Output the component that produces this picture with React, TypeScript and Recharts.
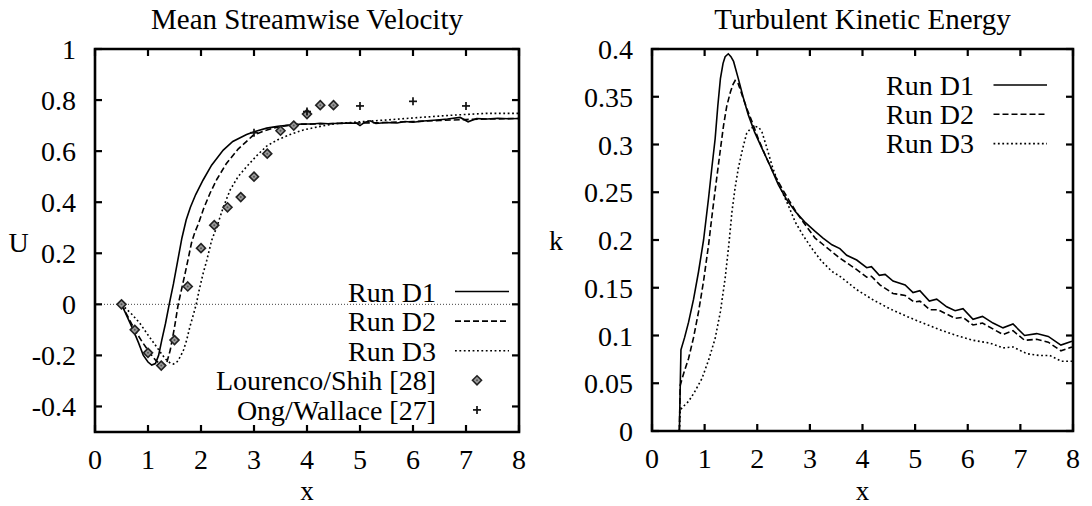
import React from 'react';
import {
  ComposedChart,
  Line,
  Scatter,
  XAxis,
  YAxis,
  ReferenceArea,
  ReferenceLine,
} from 'recharts';

const FONT = 'Liberation Serif, Times New Roman, serif';

// ---- axis ticks ----
const xTicks = [0, 1, 2, 3, 4, 5, 6, 7, 8];
const uTicks = [-0.4, -0.2, 0, 0.2, 0.4, 0.6, 0.8, 1];
const kTicks = [0, 0.05, 0.1, 0.15, 0.2, 0.25, 0.3, 0.35, 0.4];

// ---- Mean streamwise velocity ----
const uD1X = [0.5, 0.6, 0.72, 0.82, 0.91, 1.0, 1.07, 1.14, 1.2, 1.26, 1.33, 1.4, 1.48, 1.56, 1.64, 1.72, 1.8, 1.9, 2.04, 2.2, 2.42, 2.6, 2.86, 3.05, 3.24, 3.45, 3.68, 3.9, 4.1, 4.25, 4.4, 4.62, 4.8, 4.94, 5.0, 5.08, 5.19, 5.3, 5.5, 5.7, 5.85, 6.0, 6.2, 6.45, 6.65, 6.89, 7.04, 7.2, 7.4, 7.6, 7.8, 8.0];
const uD1 = [0, -0.045, -0.1, -0.15, -0.199, -0.226, -0.238, -0.232, -0.2, -0.14, -0.075, 0, 0.08, 0.17, 0.26, 0.33, 0.38, 0.43, 0.487, 0.545, 0.604, 0.638, 0.665, 0.679, 0.69, 0.697, 0.702, 0.706, 0.706, 0.709, 0.707, 0.709, 0.71, 0.709, 0.7, 0.712, 0.719, 0.708, 0.712, 0.71, 0.716, 0.713, 0.718, 0.722, 0.726, 0.732, 0.715, 0.728, 0.726, 0.729, 0.727, 0.728];

const uD2X = [0.5, 0.6, 0.7, 0.79, 0.9, 1.04, 1.14, 1.23, 1.29, 1.35, 1.42, 1.5, 1.57, 1.64, 1.7, 1.76, 1.82, 1.88, 1.95, 2.05, 2.17, 2.3, 2.48, 2.7, 2.99, 3.2, 3.37, 3.6, 3.8, 4.1, 4.5, 5.0, 5.5, 6.0, 6.5, 7.0, 7.5, 8.0];
const uD2 = [0, -0.04, -0.08, -0.114, -0.15, -0.192, -0.218, -0.234, -0.242, -0.232, -0.179, -0.09, 0, 0.065, 0.121, 0.18, 0.24, 0.28, 0.315, 0.375, 0.435, 0.49, 0.552, 0.608, 0.663, 0.68, 0.69, 0.7, 0.705, 0.706, 0.708, 0.71, 0.712, 0.716, 0.72, 0.724, 0.726, 0.728];

const uD3X = [0.5, 0.6, 0.7, 0.85, 1.0, 1.16, 1.27, 1.35, 1.42, 1.48, 1.55, 1.61, 1.67, 1.73, 1.79, 1.85, 1.91, 1.97, 2.04, 2.11, 2.2, 2.3, 2.42, 2.55, 2.7, 2.86, 3.05, 3.24, 3.45, 3.68, 3.93, 4.25, 4.56, 5.0, 5.5, 6.13, 6.76, 7.39, 8.0];
const uD3 = [0, -0.02, -0.04, -0.075, -0.12, -0.166, -0.198, -0.218, -0.23, -0.234, -0.225, -0.205, -0.179, -0.14, -0.088, -0.045, 0, 0.06, 0.121, 0.173, 0.25, 0.304, 0.38, 0.448, 0.5, 0.539, 0.582, 0.62, 0.645, 0.665, 0.683, 0.697, 0.708, 0.715, 0.722, 0.732, 0.741, 0.748, 0.748];

const lsX = [0.5, 0.75, 1.0, 1.25, 1.5, 1.75, 2.0, 2.25, 2.5, 2.75, 3.0, 3.25, 3.5, 3.75, 4.0, 4.25, 4.5];
const lsU = [0, -0.1, -0.19, -0.24, -0.14, 0.07, 0.22, 0.31, 0.38, 0.42, 0.5, 0.59, 0.68, 0.7, 0.745, 0.78, 0.78];

const owX = [3, 4, 5, 6, 7];
const owU = [0.672, 0.755, 0.777, 0.795, 0.777];

// ---- Turbulent kinetic energy ----
const kD1X = [0.52, 0.55, 0.62, 0.695, 0.79, 0.885, 0.98, 1.075, 1.14, 1.2, 1.25, 1.3, 1.35, 1.39, 1.45, 1.5, 1.55, 1.64, 1.73, 1.83, 1.95, 2.09, 2.25, 2.4, 2.55, 2.72, 2.9, 3.1, 3.25, 3.42, 3.57, 3.7, 3.89, 4.08, 4.17, 4.32, 4.43, 4.58, 4.81, 4.96, 5.09, 5.27, 5.41, 5.6, 5.76, 5.91, 6.1, 6.28, 6.48, 6.67, 6.86, 7.08, 7.31, 7.53, 7.77, 7.98];
const kD1 = [0, 0.085, 0.098, 0.114, 0.138, 0.167, 0.2, 0.244, 0.277, 0.306, 0.34, 0.369, 0.385, 0.392, 0.395, 0.392, 0.387, 0.369, 0.35, 0.331, 0.313, 0.296, 0.277, 0.258, 0.243, 0.23, 0.219, 0.209, 0.202, 0.195, 0.191, 0.184, 0.179, 0.171, 0.172, 0.163, 0.164, 0.157, 0.153, 0.145, 0.147, 0.136, 0.138, 0.13, 0.126, 0.128, 0.117, 0.12, 0.113, 0.108, 0.112, 0.1, 0.102, 0.099, 0.09, 0.094];

const kD2X = [0.52, 0.537, 0.6, 0.695, 0.79, 0.885, 0.98, 1.075, 1.15, 1.23, 1.3, 1.36, 1.42, 1.49, 1.54, 1.58, 1.63, 1.71, 1.8, 1.9, 2.02, 2.15, 2.3, 2.47, 2.62, 2.78, 2.95, 3.1, 3.3, 3.57, 3.89, 4.08, 4.17, 4.33, 4.58, 4.81, 4.98, 5.09, 5.28, 5.43, 5.76, 5.91, 6.1, 6.28, 6.67, 6.86, 7.08, 7.31, 7.53, 7.77, 7.98];
const kD2 = [0, 0.048, 0.06, 0.076, 0.098, 0.125, 0.157, 0.195, 0.23, 0.265, 0.295, 0.32, 0.34, 0.355, 0.363, 0.367, 0.365, 0.352, 0.338, 0.324, 0.306, 0.289, 0.271, 0.254, 0.24, 0.226, 0.213, 0.202, 0.193, 0.181, 0.169, 0.161, 0.162, 0.153, 0.144, 0.142, 0.135, 0.136, 0.127, 0.127, 0.118, 0.119, 0.111, 0.113, 0.101, 0.105, 0.095, 0.096, 0.093, 0.084, 0.088];

const kD3X = [0.52, 0.537, 0.6, 0.695, 0.8, 0.95, 1.08, 1.2, 1.3, 1.39, 1.46, 1.52, 1.58, 1.64, 1.72, 1.8, 1.88, 1.96, 2.03, 2.09, 2.18, 2.28, 2.37, 2.47, 2.6, 2.72, 2.88, 3.04, 3.22, 3.42, 3.57, 3.89, 4.21, 4.52, 4.84, 5.15, 5.47, 5.79, 6.1, 6.42, 6.67, 6.86, 7.12, 7.37, 7.56, 7.78, 7.98];
const kD3 = [0, 0.022, 0.026, 0.031, 0.04, 0.055, 0.075, 0.097, 0.125, 0.16, 0.195, 0.23, 0.255, 0.275, 0.295, 0.312, 0.317, 0.319, 0.318, 0.313, 0.297, 0.278, 0.264, 0.251, 0.235, 0.219, 0.204, 0.191, 0.178, 0.167, 0.162, 0.148, 0.137, 0.128, 0.12, 0.113, 0.106, 0.1, 0.095, 0.092, 0.087, 0.088, 0.081, 0.079, 0.079, 0.073, 0.073];

const runNames = ['Run D1', 'Run D2', 'Run D3'];
const dashes = [undefined, '6 3', '1.8 2.6'];

const pts = (xs: number[], ys: number[]) => xs.map((x, i) => ({ x, y: ys[i] }));

const Diamond = ({ cx, cy }: any) => (
  <g>
    <polygon
      points={`${cx},${cy - 4.5} ${cx + 4.5},${cy} ${cx},${cy + 4.5} ${cx - 4.5},${cy}`}
      fill="#999"
      stroke="#222"
      strokeWidth={1.6}
    />
    <circle cx={cx} cy={cy} r={1} fill="#555" />
  </g>
);

const Cross = ({ cx, cy }: any) => (
  <g stroke="#111" strokeWidth={1.7}>
    <line x1={cx - 4} x2={cx + 4} y1={cy} y2={cy} />
    <line x1={cx} x2={cx} y1={cy - 4} y2={cy + 4} />
  </g>
);

// gnuplot-like ticks: inward marks on both sides plus the label
const makeXTick = (top: number, bottom: number) => (props: any) => {
  const { x, payload } = props;
  return (
    <g>
      <line x1={x} x2={x} y1={bottom} y2={bottom - 7} stroke="#000" strokeWidth={2.2} />
      <line x1={x} x2={x} y1={top} y2={top + 7} stroke="#000" strokeWidth={2.2} />
      <text x={x} y={bottom + 37} textAnchor="middle" fontSize={28} fontFamily={FONT} fill="#000">
        {String(payload.value)}
      </text>
    </g>
  );
};

const makeYTick = (left: number, right: number) => (props: any) => {
  const { y, payload } = props;
  return (
    <g>
      <line x1={left} x2={left + 7} y1={y} y2={y} stroke="#000" strokeWidth={2.2} />
      <line x1={right - 7} x2={right} y1={y} y2={y} stroke="#000" strokeWidth={2.2} />
      <text x={left - 19} y={y + 10} textAnchor="end" fontSize={28} fontFamily={FONT} fill="#000">
        {String(payload.value)}
      </text>
    </g>
  );
};

const LegendLine = ({ x1, x2, y, dash }: any) => (
  <line x1={x1} x2={x2} y1={y} y2={y} stroke="#000" strokeWidth={1.6} strokeDasharray={dash} />
);

export default function App() {
  const uLines = [pts(uD1X, uD1), pts(uD2X, uD2), pts(uD3X, uD3)];
  const kLines = [pts(kD1X, kD1), pts(kD2X, kD2), pts(kD3X, kD3)];
  const lsData = pts(lsX, lsU);
  const owData = pts(owX, owU);

  const textProps = { fontFamily: FONT, fontSize: 28, fill: '#000' };

  return (
    <div style={{ position: 'absolute', left: 0, top: 0, width: 1092, height: 506, background: '#fff', fontFamily: FONT }}>
      <div style={{ position: 'absolute', left: 0, top: 0 }}>
        <ComposedChart width={546} height={506} margin={{ top: 49, right: 27, bottom: 0, left: 0 }}>
          <XAxis
            type="number"
            dataKey="x"
            domain={[0, 8]}
            ticks={xTicks}
            height={74}
            axisLine={false}
            tickLine={false}
            tickSize={0}
            tickMargin={0}
            tick={makeXTick(49, 432)}
            interval={0}
          />
          <YAxis
            type="number"
            dataKey="y"
            domain={[-0.5, 1]}
            ticks={uTicks}
            width={95}
            axisLine={false}
            tickLine={false}
            tickSize={0}
            tickMargin={0}
            tick={makeYTick(95, 519)}
            interval={0}
          />
          <ReferenceLine y={0} stroke="#444" strokeWidth={1} strokeDasharray="1 2" />
          {uLines.map((d, i) => (
            <Line
              key={runNames[i]}
              data={d}
              dataKey="y"
              type="linear"
              stroke="#000"
              strokeWidth={1.6}
              strokeDasharray={dashes[i]}
              dot={false}
              isAnimationActive={false}
            />
          ))}
          <Scatter data={lsData} dataKey="y" shape={(p: any) => <Diamond cx={p.cx} cy={p.cy} />} isAnimationActive={false} />
          <Scatter data={owData} dataKey="y" shape={(p: any) => <Cross cx={p.cx} cy={p.cy} />} isAnimationActive={false} />
          <ReferenceArea x1={0} x2={8} y1={-0.5} y2={1} fill="none" stroke="#000" strokeWidth={2.6} />
        </ComposedChart>
      </div>

      <div style={{ position: 'absolute', left: 546, top: 0 }}>
        <ComposedChart width={546} height={506} margin={{ top: 49, right: 19, bottom: 0, left: 0 }}>
          <XAxis
            type="number"
            dataKey="x"
            domain={[0, 8]}
            ticks={xTicks}
            height={75}
            axisLine={false}
            tickLine={false}
            tickSize={0}
            tickMargin={0}
            tick={makeXTick(49, 431)}
            interval={0}
          />
          <YAxis
            type="number"
            dataKey="y"
            domain={[0, 0.4]}
            ticks={kTicks}
            width={106}
            axisLine={false}
            tickLine={false}
            tickSize={0}
            tickMargin={0}
            tick={makeYTick(106, 527)}
            interval={0}
          />
          {kLines.map((d, i) => (
            <Line
              key={runNames[i]}
              data={d}
              dataKey="y"
              type="linear"
              stroke="#000"
              strokeWidth={1.6}
              strokeDasharray={dashes[i]}
              dot={false}
              isAnimationActive={false}
            />
          ))}
          <ReferenceArea x1={0} x2={8} y1={0} y2={0.4} fill="none" stroke="#000" strokeWidth={2.6} />
        </ComposedChart>
      </div>

      {/* titles, axis names and keys */}
      <svg width={1092} height={506} style={{ position: 'absolute', left: 0, top: 0, pointerEvents: 'none' }}>
        <text x={307} y={29} textAnchor="middle" {...textProps} fontSize={29}>Mean Streamwise Velocity</text>
        <text x={862.5} y={29} textAnchor="middle" {...textProps} fontSize={29}>Turbulent Kinetic Energy</text>
        <text x={18.5} y={252} textAnchor="middle" {...textProps}>U</text>
        <text x={556} y={250} textAnchor="middle" {...textProps}>k</text>
        <text x={307} y={499.5} textAnchor="middle" {...textProps} fontSize={27}>x</text>
        <text x={862.5} y={499.5} textAnchor="middle" {...textProps} fontSize={27}>x</text>

        {runNames.map((n, i) => (
          <g key={'l' + n}>
            <text x={436} y={301.5 + i * 29.6} textAnchor="end" {...textProps}>{n}</text>
            <LegendLine x1={455} x2={509} y={291.5 + i * 29.6} dash={dashes[i]} />
          </g>
        ))}
        <text x={436} y={301.5 + 3 * 29.6} textAnchor="end" {...textProps}>Lourenco/Shih [28]</text>
        <Diamond cx={477} cy={291.5 + 3 * 29.6} />
        <text x={436} y={301.5 + 4 * 29.6} textAnchor="end" {...textProps}>Ong/Wallace [27]</text>
        <Cross cx={477} cy={291.5 + 4 * 29.6} />

        {runNames.map((n, i) => (
          <g key={'r' + n}>
            <text x={974} y={94.5 + i * 29.3} textAnchor="end" {...textProps}>{n}</text>
            <LegendLine x1={993.5} x2={1047} y={85 + i * 29.3} dash={dashes[i]} />
          </g>
        ))}
      </svg>
    </div>
  );
}
